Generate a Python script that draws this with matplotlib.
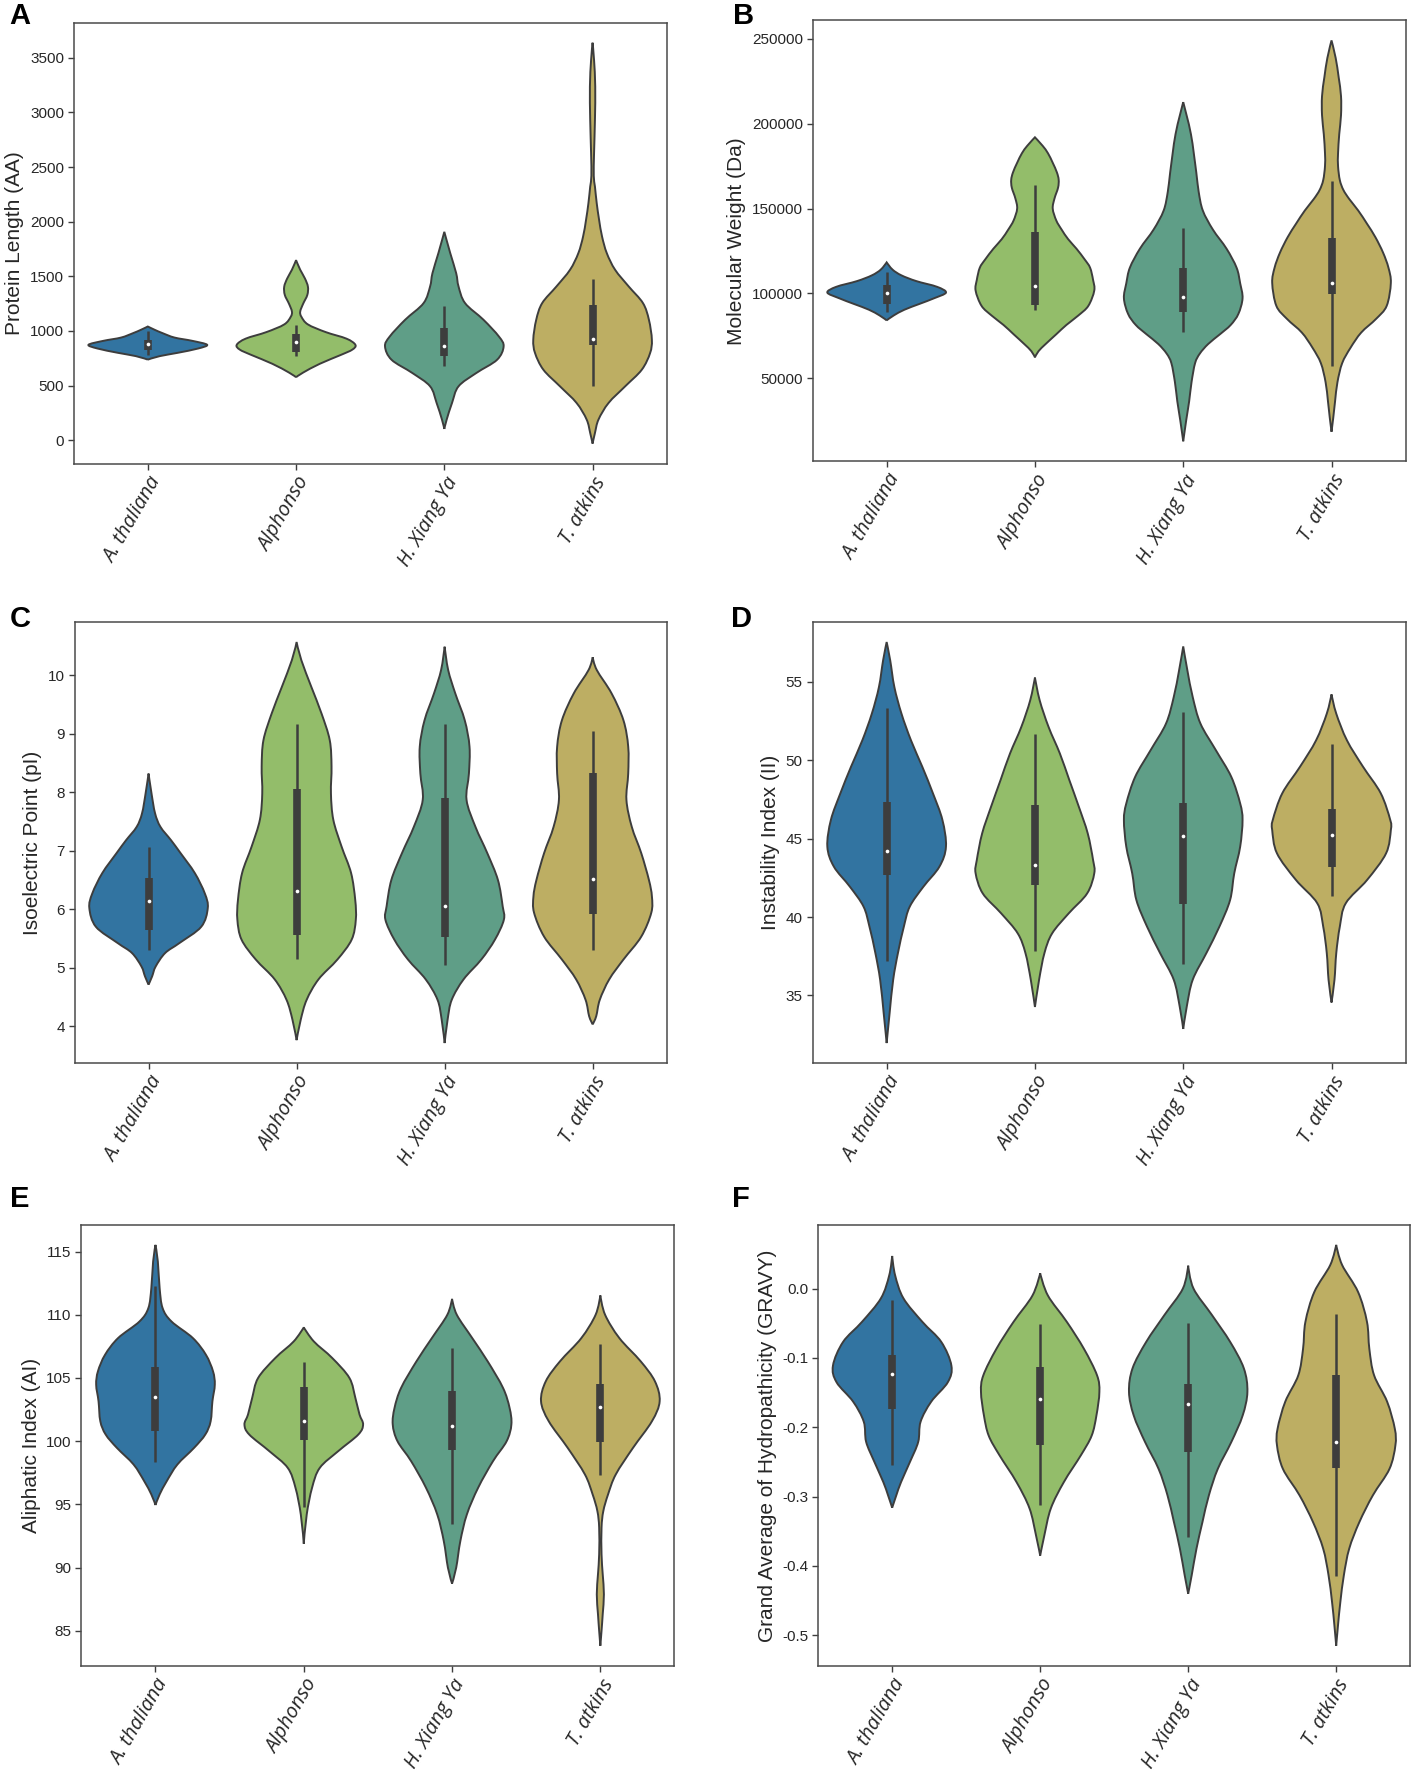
import numpy as np
import matplotlib
matplotlib.use('Agg')
import matplotlib.pyplot as plt
from matplotlib.path import Path
from matplotlib.patches import PathPatch

plt.rcParams['font.family'] = ['Liberation Sans', 'DejaVu Sans']
plt.rcParams['axes.unicode_minus'] = False

# categorias e cores
species = ['A. thaliana', 'Alphonso', 'H. Xiang Ya', 'T. atkins']
colors = ['#3274A1', '#93BD6A', '#5F9E87', '#BDAE63']

# perfis dos violinos: (valor, largura relativa 0..1)
length_shape = [
    [(738, 0), (770, 0.2), (800, 0.5), (840, 0.85), (874, 1.0), (910, 0.75), (940, 0.45), (980, 0.25), (1010, 0.12), (1041, 0)],
    [(577, 0), (620, 0.12), (700, 0.4), (780, 0.75), (830, 0.95), (874, 1.0), (930, 0.85), (990, 0.5), (1060, 0.2),
     (1130, 0.09), (1178, 0.07), (1250, 0.12), (1330, 0.19), (1405, 0.2), (1480, 0.15), (1560, 0.07), (1648, 0)],
    [(104, 0), (190, 0.04), (342, 0.13), (494, 0.24), (616, 0.54), (737, 0.89), (859, 1.0), (950, 0.92),
     (1103, 0.66), (1255, 0.35), (1407, 0.24), (1529, 0.2), (1712, 0.1), (1907, 0)],
    [(-30, 0), (67, 0.04), (190, 0.1), (342, 0.27), (494, 0.55), (646, 0.83), (798, 0.97), (920, 1.0), (1103, 0.95),
     (1255, 0.85), (1407, 0.61), (1560, 0.38), (1712, 0.24), (1864, 0.16), (2017, 0.11), (2169, 0.07), (2321, 0.04),
     (2420, 0.02), (2626, 0.025), (2930, 0.04), (3235, 0.045), (3479, 0.025), (3637, 0)],
]
length_box = [(783, 828, 883, 920, 996), (774, 805, 896, 975, 1057),
              (677, 770, 859, 1026, 1225), (500, 874, 926, 1240, 1480)]

weight_shape = [
    [(84160, 0), (87080, 0.12), (90450, 0.3), (93820, 0.55), (97190, 0.8), (100560, 1.0), (103930, 0.85),
     (107300, 0.5), (110670, 0.25), (114040, 0.1), (118320, 0)],
    [(62360, 0), (66000, 0.06), (70220, 0.18), (76000, 0.36), (81460, 0.53), (87000, 0.73), (92700, 0.9),
     (101690, 1.0), (108000, 0.98), (115170, 0.93), (120000, 0.84), (126400, 0.7), (132000, 0.56), (137640, 0.45),
     (143000, 0.36), (150000, 0.3), (156000, 0.33), (162360, 0.39), (167000, 0.4), (171350, 0.37), (177000, 0.3),
     (182600, 0.22), (187000, 0.13), (192020, 0)],
    [(12920, 0), (25280, 0.05), (36520, 0.1), (47750, 0.14), (58990, 0.2), (64600, 0.28), (70220, 0.42),
     (76000, 0.62), (81460, 0.8), (88000, 0.93), (97200, 1.0), (106000, 0.96), (115170, 0.9), (126400, 0.73),
     (137640, 0.5), (148880, 0.33), (160000, 0.26), (171350, 0.22), (193820, 0.13), (212700, 0)],
    [(18540, 0), (27000, 0.03), (36520, 0.06), (47750, 0.1), (58990, 0.18), (68000, 0.32), (76970, 0.5),
     (85000, 0.75), (92700, 0.93), (106180, 1.0), (115170, 0.96), (124000, 0.87), (133150, 0.74), (141000, 0.6),
     (148880, 0.45), (155600, 0.3), (161000, 0.2), (166800, 0.14), (175000, 0.11), (182600, 0.11), (193820, 0.13),
     (205000, 0.16), (216290, 0.16), (227500, 0.12), (238760, 0.07), (249100, 0)],
]
weight_box = [(89330, 93820, 100560, 104830, 112920), (90450, 93370, 104610, 136070, 163930),
              (77400, 88880, 97870, 115170, 138310), (57190, 99440, 106180, 132700, 166400)]

pi_shape = [
    [(4.71, 0), (4.85, 0.06), (5.02, 0.12), (5.25, 0.28), (5.42, 0.52), (5.7, 0.89), (6.02, 1.0), (6.27, 0.95),
     (6.62, 0.78), (6.96, 0.54), (7.18, 0.38), (7.41, 0.2), (7.64, 0.11), (7.98, 0.05), (8.32, 0)],
    [(3.76, 0), (4.11, 0.07), (4.45, 0.17), (4.8, 0.37), (5.14, 0.69), (5.48, 0.93), (5.82, 1.0), (6.16, 0.99),
     (6.62, 0.92), (7.07, 0.76), (7.53, 0.62), (7.98, 0.58), (8.44, 0.59), (8.89, 0.56), (9.35, 0.42), (9.8, 0.25),
     (10.26, 0.08), (10.57, 0)],
    [(3.71, 0), (4.11, 0.05), (4.45, 0.12), (4.8, 0.32), (5.14, 0.62), (5.48, 0.85), (5.82, 1.0), (6.05, 0.98),
     (6.5, 0.9), (6.96, 0.72), (7.41, 0.52), (7.87, 0.37), (8.32, 0.41), (8.78, 0.42), (9.23, 0.34), (9.69, 0.18),
     (10.09, 0.06), (10.49, 0)],
    [(4.03, 0), (4.17, 0.06), (4.45, 0.12), (4.8, 0.28), (5.14, 0.52), (5.53, 0.82), (5.94, 0.99), (6.22, 1.0),
     (6.5, 0.95), (6.96, 0.82), (7.41, 0.66), (7.87, 0.57), (8.32, 0.6), (8.78, 0.6), (9.23, 0.52), (9.69, 0.32),
     (10.09, 0.07), (10.31, 0)],
]
pi_box = [(5.31, 5.65, 6.14, 6.54, 7.06), (5.15, 5.56, 6.31, 8.05, 9.17),
          (5.05, 5.53, 6.05, 7.9, 9.17), (5.31, 5.92, 6.51, 8.33, 9.04)]

ii_shape = [
    [(31.96, 0), (33.87, 0.05), (36.0, 0.11), (37.7, 0.19), (39.39, 0.29), (40.67, 0.39), (41.94, 0.62),
     (43.22, 0.89), (44.5, 1.0), (46.2, 0.94), (47.9, 0.78), (49.6, 0.6), (51.28, 0.41), (52.98, 0.25),
     (54.68, 0.13), (56.38, 0.06), (57.55, 0)],
    [(34.26, 0), (36.0, 0.07), (37.7, 0.16), (38.96, 0.29), (40.24, 0.57), (41.51, 0.88), (42.79, 1.0),
     (43.64, 0.98), (45.34, 0.89), (47.04, 0.74), (48.74, 0.58), (50.44, 0.42), (52.13, 0.23), (53.83, 0.08),
     (55.28, 0)],
    [(32.86, 0), (34.3, 0.06), (36.0, 0.16), (37.7, 0.39), (39.39, 0.61), (41.09, 0.79), (42.79, 0.86),
     (44.49, 0.96), (46.19, 1.0), (47.25, 0.96), (48.95, 0.81), (50.65, 0.55), (52.35, 0.29), (54.04, 0.16),
     (55.74, 0.07), (57.27, 0)],
    [(34.55, 0), (36.0, 0.05), (37.7, 0.08), (39.39, 0.14), (40.88, 0.24), (42.37, 0.6), (44.07, 0.92),
     (45.55, 1.0), (46.2, 0.99), (47.9, 0.83), (49.6, 0.53), (51.28, 0.26), (52.98, 0.08), (54.21, 0)],
]
ii_box = [(37.2, 42.68, 44.22, 47.36, 53.32), (37.86, 42.05, 43.3, 47.13, 51.69),
          (37.03, 40.82, 45.17, 47.25, 53.11), (41.34, 43.18, 45.21, 46.89, 51.03)]

ai_shape = [
    [(94.95, 0), (95.79, 0.07), (96.84, 0.19), (98.16, 0.37), (99.47, 0.65), (100.53, 0.84), (101.58, 0.93),
     (103.16, 0.96), (104.47, 1.0), (105.53, 0.97), (106.84, 0.85), (108.16, 0.63), (109.47, 0.27),
     (110.53, 0.12), (112.11, 0.07), (114.21, 0.04), (115.53, 0)],
    [(91.89, 0), (94.21, 0.05), (96.32, 0.14), (97.89, 0.27), (99.21, 0.58), (100.53, 0.92), (101.32, 1.0),
     (102.11, 0.94), (103.42, 0.87), (105.0, 0.77), (106.58, 0.48), (107.89, 0.17), (109.0, 0)],
    [(88.74, 0), (90.0, 0.07), (92.11, 0.14), (94.21, 0.25), (96.32, 0.44), (98.42, 0.69), (100.0, 0.92),
     (101.32, 1.0), (102.63, 0.97), (104.21, 0.86), (106.32, 0.6), (108.16, 0.34), (110.0, 0.08), (111.26, 0)],
    [(83.82, 0), (85.0, 0.02), (86.32, 0.04), (87.89, 0.06), (89.47, 0.04), (91.05, 0.02), (93.16, 0.02),
     (94.47, 0.05), (95.79, 0.13), (97.37, 0.26), (99.47, 0.55), (101.58, 0.87), (103.16, 1.0), (104.74, 0.92),
     (106.32, 0.68), (108.16, 0.32), (110.0, 0.08), (111.53, 0)],
]
ai_box = [(98.33, 100.78, 103.51, 105.83, 112.24), (94.77, 100.09, 101.58, 104.25, 106.24),
          (93.45, 99.28, 101.24, 103.97, 107.39), (97.36, 99.91, 102.67, 104.54, 107.67)]

gravy_shape = [
    [(-0.316, 0), (-0.298, 0.07), (-0.279, 0.15), (-0.25, 0.3), (-0.221, 0.44), (-0.192, 0.48), (-0.163, 0.66),
     (-0.135, 0.94), (-0.111, 1.0), (-0.077, 0.83), (-0.048, 0.51), (-0.014, 0.19), (0.019, 0.05), (0.047, 0)],
    [(-0.385, 0), (-0.356, 0.07), (-0.317, 0.18), (-0.279, 0.4), (-0.24, 0.69), (-0.212, 0.87), (-0.183, 0.95),
     (-0.149, 1.0), (-0.125, 0.96), (-0.087, 0.74), (-0.048, 0.45), (-0.01, 0.13), (0.022, 0)],
    [(-0.44, 0), (-0.413, 0.06), (-0.375, 0.14), (-0.337, 0.24), (-0.298, 0.35), (-0.26, 0.5), (-0.221, 0.73),
     (-0.183, 0.92), (-0.149, 1.0), (-0.115, 0.94), (-0.077, 0.71), (-0.038, 0.4), (0.0, 0.09), (0.033, 0)],
    [(-0.515, 0), (-0.486, 0.03), (-0.452, 0.07), (-0.413, 0.13), (-0.375, 0.22), (-0.337, 0.39), (-0.298, 0.62),
     (-0.26, 0.9), (-0.226, 1.0), (-0.202, 0.99), (-0.163, 0.86), (-0.125, 0.64), (-0.087, 0.56), (-0.048, 0.52),
     (-0.005, 0.37), (0.034, 0.1), (0.063, 0)],
]
gravy_box = [(-0.254, -0.173, -0.123, -0.096, -0.016), (-0.312, -0.225, -0.159, -0.113, -0.051),
             (-0.358, -0.236, -0.166, -0.138, -0.049), (-0.414, -0.259, -0.221, -0.124, -0.037)]

# painéis: letra, rótulo, perfis, caixas, ticks, formato, posição [esq, base, larg, alt]
panels = [
    ('A', 'Protein Length (AA)', length_shape, length_box, [0, 500, 1000, 1500, 2000, 2500, 3000, 3500], '%d',
     [0.052, 0.7382, 0.4185, 0.249]),
    ('B', 'Molecular Weight (Da)', weight_shape, weight_box, [50000, 100000, 150000, 200000, 250000], '%d',
     [0.5734, 0.7395, 0.4186, 0.249]),
    ('C', 'Isoelectric Point (pI)', pi_shape, pi_box, [4, 5, 6, 7, 8, 9, 10], '%d', [0.0526, 0.3997, 0.4179, 0.2491]),
    ('D', 'Instability Index (II)', ii_shape, ii_box, [35, 40, 45, 50, 55], '%d', [0.5734, 0.3997, 0.4186, 0.2491]),
    ('E', 'Aliphatic Index (AI)', ai_shape, ai_box, [85, 90, 95, 100, 105, 110, 115], '%d', [0.0574, 0.0594, 0.4186, 0.249]),
    ('F', 'Grand Average of Hydropathicity (GRAVY)', gravy_shape, gravy_box, [-0.5, -0.4, -0.3, -0.2, -0.1, 0.0], '%.1f',
     [0.5774, 0.0594, 0.4178, 0.249]),
]
letter_pos = {'A': (0.014, 0.991), 'B': (0.525, 0.991), 'C': (0.014, 0.6505), 'D': (0.523, 0.6505),
              'E': (0.014, 0.3232), 'F': (0.523, 0.3232)}

edge = '#3d3d3d'
HALF = 0.4


def violin_path(pos, prof):
    # contorno suave (Bezier) passando pelos pontos lidos
    ys = [p[0] for p in prof]
    ws = [p[1] * HALF for p in prof]
    m = len(prof)
    right = [(pos + w, y) for y, w in zip(ys, ws)]
    left = [(pos - w, y) for y, w in zip(ys[::-1], ws[::-1])]
    pts = np.array(right + left[1:-1], dtype=float)
    n = len(pts)
    tips = {0, m - 1}
    verts = [pts[0]]
    codes = [Path.MOVETO]
    for i in range(n):
        p0, p1, p2, p3 = pts[i - 1], pts[i], pts[(i + 1) % n], pts[(i + 2) % n]
        t1 = (p2 - p0) / 6.0
        t2 = (p3 - p1) / 6.0
        if i in tips:
            t1 = t1 * 0
        if (i + 1) % n in tips:
            t2 = t2 * 0
        verts += [p1 + t1, p2 - t2, p2]
        codes += [Path.CURVE4] * 3
    return Path(verts, codes)


fig = plt.figure(figsize=(14.17, 17.71), dpi=100)

for letter, ylabel, shapes, boxes, yticks, fmt, rect in panels:
    ax = fig.add_axes(rect)
    for i, (prof, box) in enumerate(zip(shapes, boxes)):
        patch = PathPatch(violin_path(i, prof), facecolor=colors[i], edgecolor=edge, lw=1.4, zorder=2)
        ax.add_patch(patch)
        wlo, q1, med, q3, whi = box
        ax.plot([i, i], [wlo, whi], color=edge, lw=1.8, solid_capstyle='butt', zorder=3)
        ax.plot([i, i], [q1, q3], color=edge, lw=5.5, solid_capstyle='butt', zorder=3)
        ax.scatter([i], [med], s=7, color='white', zorder=4, linewidths=0)
    ax.autoscale_view()
    ax.set_xlim(-0.5, 3.5)
    ax.set_yticks(yticks)
    ax.set_yticklabels([fmt % v for v in yticks], fontsize=11, color='#262626')
    ax.set_xticks(range(len(species)))
    ax.set_xticklabels(species, rotation=60, ha='right', rotation_mode='anchor',
                       fontsize=14.5, fontstyle='italic', family=['Open Sans', 'DejaVu Sans'], color='#262626')
    ax.set_ylabel(ylabel, fontsize=15, color='#262626', labelpad=4)
    ax.tick_params(direction='out', length=4, width=1, color='#3d3d3d', pad=3)
    for s in ax.spines.values():
        s.set_color('#4a4a4a')
        s.set_linewidth(1.1)
    lx, ly = letter_pos[letter]
    fig.text(lx, ly, letter, fontsize=21, fontweight='bold', ha='center', va='center')

fig.savefig('out.png', dpi=100, facecolor='white')
